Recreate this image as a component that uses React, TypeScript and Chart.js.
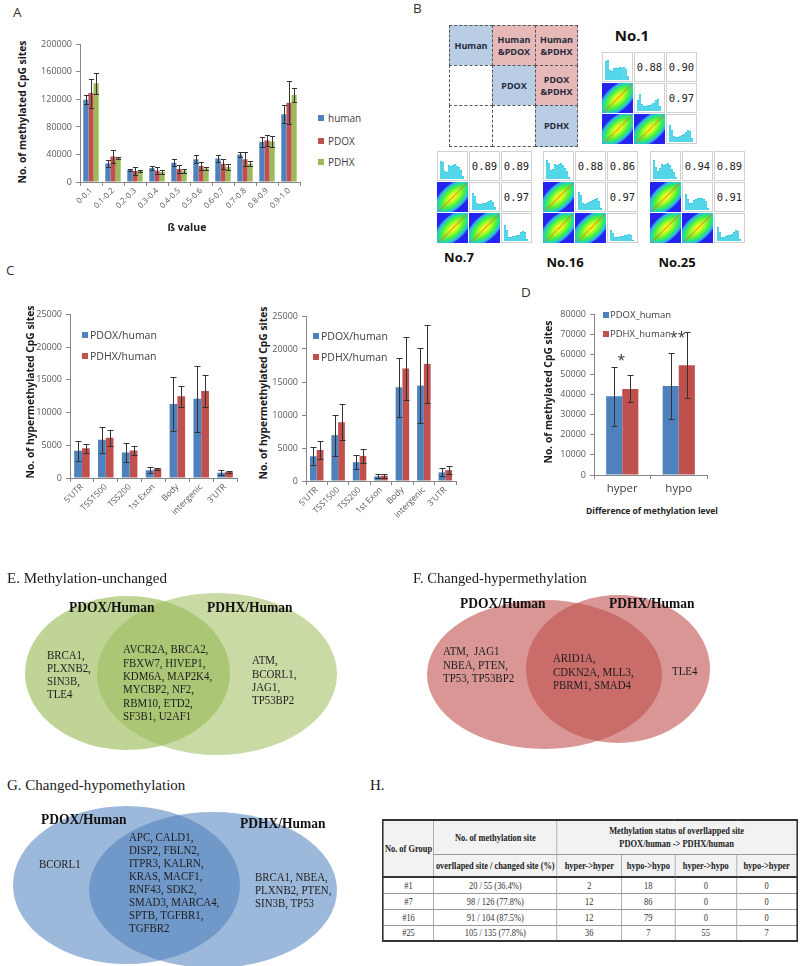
import React, { useEffect, useRef } from "react";
import { Chart, registerables } from "chart.js";

Chart.register(...registerables);

const SANS = '"Open Sans", "Noto Sans", sans-serif';
const SERIF = '"Liberation Serif", "Times New Roman", serif';
const MONO = '"DejaVu Sans Mono", monospace';
const BLUE = "#4F81BD";
const RED = "#C0504D";
const GREEN = "#9BBB59";
const AXIS = "#868686";
const TICK = "#595959";

// ---------------- Panel A data ----------------
const betaBins = ["0-0.1", "0.1-0.2", "0.2-0.3", "0.3-0.4", "0.4-0.5", "0.5-0.6", "0.6-0.7", "0.7-0.8", "0.8-0.9", "0.9-1.0"];
const humanSites = [119500, 27000, 17800, 20200, 28000, 33000, 34200, 40000, 58300, 98300];
const humanSitesErr = [6500, 5000, 1500, 2500, 5000, 6000, 5000, 4000, 7000, 13000];
const pdoxSites = [129200, 37100, 15900, 16400, 18800, 23100, 26500, 33200, 60200, 115200];
const pdoxSitesErr = [21000, 10000, 6000, 5000, 6000, 6000, 7500, 10000, 8000, 31000];
const pdhxSites = [143600, 35000, 16400, 14500, 16400, 19800, 21700, 26500, 58800, 126700];
const pdhxSitesErr = [15000, 2000, 1500, 3000, 3000, 2500, 4000, 3500, 8000, 10000];

// ---------------- Panel C data ----------------
const regions = ["5'UTR", "TSS1500", "TSS200", "1st Exon", "Body", "intergenic", "3'UTR"];
const hyperPdoxLeft = [4150, 5850, 3900, 1200, 11300, 12100, 800];
const hyperPdoxLeftErr = [1500, 2000, 1400, 500, 4100, 5000, 400];
const hyperPdhxLeft = [4550, 6150, 4200, 1400, 12500, 13300, 900];
const hyperPdhxLeftErr = [700, 1200, 700, 200, 1600, 2400, 150];
const hyperPdoxRight = [3750, 6950, 2850, 700, 14200, 14450, 1300];
const hyperPdoxRightErr = [1400, 3100, 1100, 300, 4450, 5650, 600];
const hyperPdhxRight = [4700, 8900, 3800, 800, 17050, 17750, 1650];
const hyperPdhxRightErr = [1300, 2700, 1100, 300, 4750, 5950, 600];

// ---------------- Panel D data ----------------
const diffLevels = ["hyper", "hypo"];
const pdoxDiff = [39200, 44300];
const pdoxDiffErr = [14700, 16300];
const pdhxDiff = [42900, 54700];
const pdhxDiffErr = [6700, 16300];
const starText = ["*", "**"];
const starLevel = [58500, 69500];

// ---------------- Panel B data ----------------
const legendCellText = [
  ["Human", "Human\n&PDOX", "Human\n&PDHX"],
  ["", "PDOX", "PDOX\n&PDHX"],
  ["", "", "PDHX"],
];
const sampleNames = ["No.1", "No.7", "No.16", "No.25"];
const corrNo1 = [0.88, 0.9, 0.97];
const corrNo7 = [0.89, 0.89, 0.97];
const corrNo16 = [0.88, 0.86, 0.97];
const corrNo25 = [0.94, 0.89, 0.91];
const histNo1 = [
  [0.95, 1.0, 0.5, 0.45, 0.6, 0.62, 0.6, 0.65, 0.62, 0.66, 0.58, 0.2],
  [0.55, 0.85, 0.35, 0.25, 0.25, 0.3, 0.3, 0.38, 0.42, 0.55, 0.62, 0.25],
  [0.85, 0.62, 0.3, 0.25, 0.25, 0.3, 0.35, 0.4, 0.5, 0.6, 0.55, 0.2],
];
const histNo7 = [
  [0.9, 0.85, 0.4, 0.35, 0.7, 0.65, 0.7, 0.75, 0.65, 0.6, 0.45, 0.15],
  [0.85, 0.7, 0.35, 0.3, 0.3, 0.35, 0.35, 0.4, 0.45, 0.5, 0.4, 0.15],
  [0.8, 0.55, 0.2, 0.2, 0.25, 0.25, 0.3, 0.3, 0.45, 0.5, 0.45, 0.1],
];
const histNo16 = [
  [0.95, 0.8, 0.45, 0.5, 0.75, 0.7, 0.75, 0.8, 0.7, 0.55, 0.4, 0.1],
  [0.9, 0.75, 0.35, 0.3, 0.35, 0.4, 0.45, 0.5, 0.55, 0.6, 0.45, 0.1],
  [0.55, 0.4, 0.2, 0.2, 0.22, 0.25, 0.25, 0.3, 0.3, 0.35, 0.3, 0.05],
];
const histNo25 = [
  [0.95, 0.6, 0.4, 0.55, 0.75, 0.7, 0.75, 0.8, 0.7, 0.5, 0.35, 0.1],
  [0.8, 0.55, 0.35, 0.35, 0.5, 0.55, 0.6, 0.6, 0.6, 0.55, 0.45, 0.1],
  [0.7, 0.45, 0.2, 0.2, 0.25, 0.3, 0.3, 0.35, 0.45, 0.55, 0.5, 0.1],
];

// ---------------- Venn texts ----------------
const vennSetNames = ["PDOX/Human", "PDHX/Human"];
const unchangedLeft = ["BRCA1,", "PLXNB2,", "SIN3B,", "TLE4"];
const unchangedBoth = ["AVCR2A, BRCA2,", "FBXW7, HIVEP1,", "KDM6A, MAP2K4,", "MYCBP2, NF2,", "RBM10, ETD2,", "SF3B1, U2AF1"];
const unchangedRight = ["ATM,", "BCORL1,", "JAG1,", "TP53BP2"];
const hyperLeft = ["ATM,  JAG1", "NBEA, PTEN,", "TP53, TP53BP2"];
const hyperBoth = ["ARID1A,", "CDKN2A, MLL3,", "PBRM1, SMAD4"];
const hyperRight = ["TLE4"];
const hypoLeft = ["BCORL1"];
const hypoBoth = ["APC, CALD1,", "DISP2, FBLN2,", "ITPR3, KALRN,", "KRAS, MACF1,", "RNF43, SDK2,", "SMAD3, MARCA4,", "SPTB, TGFBR1,", "TGFBR2"];
const hypoRight = ["BRCA1, NBEA,", "PLXNB2, PTEN,", "SIN3B, TP53"];

// ---------------- Table H data ----------------
const groupIds = ["#1", "#7", "#16", "#25"];
const overlapText = ["20 / 55 (36.4%)", "98 / 126 (77.8%)", "91 / 104 (87.5%)", "105 / 135 (77.8%)"];
const transitions = ["hyper->hyper", "hypo->hypo", "hyper->hypo", "hypo->hyper"];
const hyperToHyper = [2, 12, 12, 36];
const hypoToHypo = [18, 86, 79, 7];
const hyperToHypo = [0, 0, 0, 55];
const hypoToHyper = [0, 0, 0, 7];

// ---------------- plugins ----------------
const errorBarPlugin = {
  id: "errorBars",
  afterDatasetsDraw(chart: any, _args: any, opts: any) {
    const errs: number[][] = (opts && opts.errors) || [];
    const y = chart.scales.y;
    const ctx = chart.ctx;
    ctx.save();
    ctx.strokeStyle = "#333333";
    ctx.lineWidth = 1;
    chart.data.datasets.forEach((ds: any, di: number) => {
      const e = errs[di];
      if (!e) return;
      const meta = chart.getDatasetMeta(di);
      meta.data.forEach((bar: any, i: number) => {
        const v = ds.data[i];
        const err = e[i];
        const px = Math.round(bar.x) + 0.5;
        const top = Math.round(y.getPixelForValue(v + err)) + 0.5;
        const bot = Math.round(y.getPixelForValue(Math.max(0, v - err))) + 0.5;
        const cap = Math.min(bar.width / 2, 3);
        ctx.beginPath();
        ctx.moveTo(px, top);
        ctx.lineTo(px, bot);
        ctx.moveTo(px - cap, top);
        ctx.lineTo(px + cap, top);
        ctx.moveTo(px - cap, bot);
        ctx.lineTo(px + cap, bot);
        ctx.stroke();
      });
    });
    ctx.restore();
  },
};

const starPlugin = {
  id: "stars",
  afterDatasetsDraw(chart: any, _args: any, opts: any) {
    const marks = (opts && opts.marks) || [];
    if (!marks.length) return;
    const { x, y } = chart.scales;
    const ctx = chart.ctx;
    ctx.save();
    ctx.fillStyle = "#333";
    ctx.font = `14px ${SANS}`;
    ctx.textAlign = "center";
    ctx.textBaseline = "middle";
    marks.forEach((m: any) => {
      ctx.fillText(m.text, x.getPixelForValue(m.cat) - 1, y.getPixelForValue(m.value) + 3);
    });
    ctx.restore();
  },
};

const ellipsePlugin = {
  id: "ellipses",
  beforeDatasetsDraw(chart: any) {
    const { x, y } = chart.scales;
    const ctx = chart.ctx;
    ctx.save();
    chart.data.datasets.forEach((ds: any) => {
      const p = ds.data[0];
      const cx = x.getPixelForValue(p.x);
      const cy = y.getPixelForValue(p.y);
      const rx = Math.abs(x.getPixelForValue(p.x + ds.rx) - cx);
      const ry = Math.abs(y.getPixelForValue(p.y + ds.ry) - cy);
      ctx.fillStyle = ds.fill;
      ctx.beginPath();
      ctx.ellipse(cx, cy, rx, ry, 0, 0, Math.PI * 2);
      ctx.fill();
    });
    ctx.restore();
  },
};

type Series = { label: string; data: number[]; err: number[]; color: string };

function barConfig(o: any) {
  return {
    type: "bar",
    data: {
      labels: o.labels,
      datasets: o.series.map((s: Series) => ({
        label: s.label,
        data: s.data,
        backgroundColor: s.color,
        borderWidth: 0,
        barPercentage: 1,
        categoryPercentage: o.catPct,
      })),
    },
    options: {
      animation: false,
      responsive: false,
      events: [],
      layout: { padding: { top: o.padTop, right: o.padRight, left: 0, bottom: 0 } },
      plugins: {
        legend: { display: false },
        tooltip: { enabled: false },
        errorBars: { errors: o.series.map((s: Series) => s.err) },
        stars: { marks: o.stars || [] },
      },
      scales: {
        x: {
          grid: { display: true, drawOnChartArea: false, drawTicks: true, tickLength: 4, color: AXIS, offset: true },
          border: { display: true, color: AXIS, width: 1 },
          ticks: {
            autoSkip: false,
            minRotation: o.rot,
            maxRotation: o.rot,
            padding: o.xPad ?? 0,
            color: o.xColor ?? TICK,
            font: { size: o.xFont, family: SANS },
          },
          afterFit: (s: any) => {
            s.height = o.xAxisH;
          },
        },
        y: {
          min: 0,
          max: o.yMax,
          grid: { display: true, drawOnChartArea: false, drawTicks: true, tickLength: 4, color: AXIS },
          border: { display: true, color: AXIS, width: 1 },
          ticks: {
            stepSize: o.yStep,
            padding: 4,
            color: TICK,
            font: { size: o.yFont, family: SANS },
            callback: (v: any) => String(v),
          },
          afterFit: (s: any) => {
            s.width = o.yAxisW;
          },
        },
      },
    },
    plugins: [errorBarPlugin, starPlugin],
  };
}

function ChartCanvas({ left, top, width, height, build }: any) {
  const ref = useRef<HTMLCanvasElement | null>(null);
  useEffect(() => {
    const chart = new Chart(ref.current as HTMLCanvasElement, build());
    return () => chart.destroy();
  }, []);
  return (
    <canvas
      ref={ref}
      width={width}
      height={height}
      style={{ position: "absolute", left, top, width, height }}
    />
  );
}

function histConfig(vals: number[]) {
  return {
    type: "bar",
    data: {
      labels: vals.map((_, i) => String(i)),
      datasets: [
        {
          data: vals,
          backgroundColor: "#22e2f0",
          borderColor: "#0fb2d2",
          borderWidth: 0.6,
          borderSkipped: "bottom",
          barPercentage: 1,
          categoryPercentage: 0.95,
        },
      ],
    },
    options: {
      animation: false,
      responsive: false,
      events: [],
      layout: { padding: { top: 6, left: 2, right: 3, bottom: 1 } },
      plugins: { legend: { display: false }, tooltip: { enabled: false } },
      scales: { x: { display: false }, y: { display: false, min: 0, max: 1.05 } },
    },
  };
}

function vennConfig(box: any, ellipses: any[]) {
  return {
    type: "scatter",
    data: {
      datasets: ellipses.map((e) => ({
        data: [{ x: e.cx, y: e.cy }],
        rx: e.rx,
        ry: e.ry,
        fill: e.fill,
        pointRadius: 0,
      })),
    },
    options: {
      animation: false,
      responsive: false,
      events: [],
      layout: { autoPadding: false, padding: 0 },
      plugins: { legend: { display: false }, tooltip: { enabled: false } },
      scales: {
        x: { type: "linear", display: false, min: box.left, max: box.left + box.width },
        y: { type: "linear", display: false, min: box.top, max: box.top + box.height, reverse: true },
      },
    },
    plugins: [ellipsePlugin],
  };
}

function Label({ x, y, text, size = 12, bold = false, family = SANS, color = "#222", lh, sx = 1, align = "left" }: any) {
  const lineH = lh ?? Math.round(size * 1.25);
  return (
    <div
      style={{
        position: "absolute",
        left: x,
        top: y - lineH / 2,
        fontSize: size,
        fontWeight: bold ? 700 : 400,
        fontFamily: family,
        color,
        lineHeight: `${lineH}px`,
        whiteSpace: "pre",
        textAlign: align,
        transform: align === "center" ? `translateX(-50%) scaleX(${sx})` : `scaleX(${sx})`,
        transformOrigin: align === "center" ? "50% 0" : "0 0",
      }}
    >
      {text}
    </div>
  );
}

function VLabel({ cx, cy, text, size = 10.3 }: any) {
  return (
    <div
      style={{
        position: "absolute",
        left: cx,
        top: cy,
        transform: "translate(-50%,-50%) rotate(-90deg)",
        fontSize: size,
        fontWeight: 700,
        fontFamily: SANS,
        whiteSpace: "nowrap",
        color: "#1a1a1a",
        lineHeight: 1,
      }}
    >
      {text}
    </div>
  );
}

function Key({ x, y, color, text, size = 10, gap = 8 }: any) {
  return (
    <>
      <div style={{ position: "absolute", left: x, top: y - 3, width: 6, height: 6, background: color }} />
      <div
        style={{
          position: "absolute",
          left: x + gap,
          top: y - size * 0.7,
          fontSize: size,
          lineHeight: `${size * 1.4}px`,
          fontFamily: SANS,
          color: "#404040",
          whiteSpace: "nowrap",
        }}
      >
        {text}
      </div>
    </>
  );
}

function Density({ x, y }: any) {
  return (
    <div style={{ position: "absolute", left: x, top: y, width: 31, height: 30, background: "#2424ee", overflow: "hidden" }}>
      <div
        style={{
          position: "absolute",
          left: "50%",
          top: "50%",
          width: 50,
          height: 25,
          transform: "translate(-50%,-50%) rotate(-43deg)",
          borderRadius: "50%",
          background:
            "radial-gradient(closest-side, #ffe21a 0%, #eaff22 14%, #a6ff2a 32%, #4cf03a 55%, #22d6b0 74%, #3aa0f0 88%, rgba(36,36,238,0) 100%)",
        }}
      />
      <div
        style={{
          position: "absolute",
          left: "50%",
          top: "50%",
          width: 38,
          height: 1,
          background: "rgba(255,110,20,0.75)",
          transform: "translate(-50%,-50%) rotate(-45deg)",
        }}
      />
    </div>
  );
}

function Matrix({ x, y, hists, corr }: any) {
  const cells: any[] = [];
  let k = 0;
  for (let r = 0; r < 3; r++) {
    for (let c = 0; c < 3; c++) {
      const cx = x + c * 32;
      const cy = y + r * 31;
      const key = `${r}-${c}`;
      if (r === c) {
        cells.push(
          <div key={key} style={{ position: "absolute", left: cx, top: cy, width: 31, height: 30, boxSizing: "border-box", border: "1px solid #d0d0d0", background: "#fff" }} />
        );
        cells.push(<ChartCanvas key={key + "h"} left={cx + 1} top={cy + 1} width={29} height={28} build={() => histConfig(hists[r])} />);
      } else if (r < c) {
        const v = corr[k++];
        cells.push(
          <div
            key={key}
            style={{
              position: "absolute",
              left: cx,
              top: cy,
              width: 31,
              height: 30,
              boxSizing: "border-box",
              border: "1px solid #d0d0d0",
              background: "#fff",
              fontFamily: MONO,
              fontSize: 10.5,
              lineHeight: "28px",
              textAlign: "center",
              color: "#222",
            }}
          >
            {v.toFixed(2)}
          </div>
        );
      } else {
        cells.push(<Density key={key} x={cx} y={cy} />);
      }
    }
  }
  return <>{cells}</>;
}

function LegendGrid() {
  const widths = [43, 43, 42];
  const heights = [40, 40, 41];
  const out: any[] = [];
  let top = 25;
  for (let r = 0; r < 3; r++) {
    let left = 449;
    for (let c = 0; c < 3; c++) {
      const txt = legendCellText[r][c];
      const bg = r === c ? "#b9cde4" : r < c ? "#e6b8b7" : "#ffffff";
      out.push(
        <div
          key={`${r}${c}`}
          style={{
            position: "absolute",
            left,
            top,
            width: widths[c] + 1,
            height: heights[r] + 1,
            boxSizing: "border-box",
            border: "1px dashed #555",
            background: bg,
            display: "flex",
            alignItems: "center",
            justifyContent: "center",
            textAlign: "center",
            whiteSpace: "pre",
            fontFamily: SANS,
            fontWeight: 700,
            fontSize: 9,
            lineHeight: "12px",
            color: "#1f2a3a",
          }}
        >
          {txt}
        </div>
      );
      left += widths[c];
    }
    top += heights[r];
  }
  return <>{out}</>;
}

function MethTable() {
  const S = 1.25;
  const cols = [51, 123, 65, 53, 62, 60].map((w) => w * S);
  const base: any = {
    border: "1px solid #9a9a9a",
    padding: 0,
    textAlign: "center",
    verticalAlign: "middle",
    whiteSpace: "nowrap",
    overflow: "hidden",
  };
  const th = { ...base, background: "#f2f2f2", fontWeight: 700, color: "#222" };
  const thLow = { ...th, borderBottom: "2px solid #333" };
  const td = { ...base, fontWeight: 400, color: "#333" };
  const rows = groupIds.map((g, i) => [g, overlapText[i], hyperToHyper[i], hypoToHypo[i], hyperToHypo[i], hypoToHyper[i]]);
  return (
    <div style={{ position: "absolute", left: 382, top: 819, transform: `scaleX(${1 / S})`, transformOrigin: "0 0" }}>
      <table
        style={{
          width: 414 * S,
          height: 122,
          borderCollapse: "collapse",
          tableLayout: "fixed",
          fontFamily: SERIF,
          fontSize: 10.5,
          border: "2px solid #333",
        }}
      >
        <colgroup>
          {cols.map((w, i) => (
            <col key={i} style={{ width: w }} />
          ))}
        </colgroup>
        <thead>
          <tr style={{ height: 34 }}>
            <th rowSpan={2} style={thLow}>No. of Group</th>
            <th style={th}>No. of methylation site</th>
            <th colSpan={4} style={{ ...th, lineHeight: "13px" }}>
              Methylation status of overllapped site
              <br />
              PDOX/human -&gt; PDHX/human
            </th>
          </tr>
          <tr style={{ height: 23 }}>
            <th style={thLow}>overllaped site / changed site (%)</th>
            {transitions.map((t) => (
              <th key={t} style={thLow}>
                {t}
              </th>
            ))}
          </tr>
        </thead>
        <tbody>
          {rows.map((r, i) => (
            <tr key={i} style={{ height: 16 }}>
              {r.map((v, j) => (
                <td key={j} style={td}>
                  {v}
                </td>
              ))}
            </tr>
          ))}
        </tbody>
      </table>
    </div>
  );
}

function GeneBlock({ x, y, lines, lh = 13.3 }: any) {
  return <Label x={x} y={y} text={lines.join("\n")} size={12.5} family={SERIF} lh={lh} sx={0.87} color="#1e1e1e" />;
}

export default function App() {
  const aSeries: Series[] = [
    { label: "human", data: humanSites, err: humanSitesErr, color: BLUE },
    { label: "PDOX", data: pdoxSites, err: pdoxSitesErr, color: RED },
    { label: "PDHX", data: pdhxSites, err: pdhxSitesErr, color: GREEN },
  ];
  const cLeft: Series[] = [
    { label: "PDOX/human", data: hyperPdoxLeft, err: hyperPdoxLeftErr, color: BLUE },
    { label: "PDHX/human", data: hyperPdhxLeft, err: hyperPdhxLeftErr, color: RED },
  ];
  const cRight: Series[] = [
    { label: "PDOX/human", data: hyperPdoxRight, err: hyperPdoxRightErr, color: BLUE },
    { label: "PDHX/human", data: hyperPdhxRight, err: hyperPdhxRightErr, color: RED },
  ];
  const dSeries: Series[] = [
    { label: "PDOX_human", data: pdoxDiff, err: pdoxDiffErr, color: BLUE },
    { label: "PDHX_human", data: pdhxDiff, err: pdhxDiffErr, color: RED },
  ];
  const dStars = starText.map((t, i) => ({ cat: i, value: starLevel[i], text: t }));

  const boxE = { left: 0, top: 585, width: 345, height: 185 };
  const boxF = { left: 400, top: 585, width: 330, height: 180 };
  const boxG = { left: 0, top: 795, width: 345, height: 171 };
  const gA = "rgba(155,187,89,0.64)";
  const gB = "rgba(155,187,89,0.54)";
  const rA = "rgba(192,80,77,0.6)";
  const bA = "rgba(79,129,189,0.56)";

  return (
    <div
      style={{
        position: "absolute",
        left: 0,
        top: 0,
        width: 800,
        height: 966,
        overflow: "hidden",
        background: "#fff",
        fontFamily: SANS,
      }}
    >
      {/* ---------- Panel A ---------- */}
      <ChartCanvas
        left={30}
        top={35}
        width={280}
        height={190}
        build={() =>
          barConfig({
            labels: betaBins,
            series: aSeries,
            yMax: 200000,
            yStep: 40000,
            yAxisW: 50,
            xAxisH: 43,
            padTop: 8,
            padRight: 10,
            catPct: 0.7,
            yFont: 9,
            xFont: 8,
            rot: 45,
          })
        }
      />
      <Label x={13} y={12} text="A" size={13.5} color="#333" />
      <VLabel cx={22} cy={112} text="No. of methylated CpG sites" />
      <Key x={318} y={118} color={BLUE} text="human" gap={10} />
      <Key x={318} y={141} color={RED} text="PDOX" gap={10} />
      <Key x={318} y={162} color={GREEN} text="PDHX" gap={10} />
      <Label x={187} y={227} text="ß value" size={10.5} bold align="center" />

      {/* ---------- Panel B ---------- */}
      <Label x={413} y={8} text="B" size={13.5} color="#333" />
      <LegendGrid />
      <Matrix x={602} y={52} hists={histNo1} corr={corrNo1} />
      <Matrix x={437} y={151} hists={histNo7} corr={corrNo7} />
      <Matrix x={543} y={151} hists={histNo16} corr={corrNo16} />
      <Matrix x={650} y={151} hists={histNo25} corr={corrNo25} />
      <Label x={632} y={35} text={sampleNames[0]} size={15} bold align="center" color="#111" />
      <Label x={459} y={257} text={sampleNames[1]} size={13} bold align="center" color="#111" />
      <Label x={565} y={262} text={sampleNames[2]} size={13} bold align="center" color="#111" />
      <Label x={677} y={262} text={sampleNames[3]} size={13} bold align="center" color="#111" />

      {/* ---------- Panel C ---------- */}
      <ChartCanvas
        left={35}
        top={305}
        width={212}
        height={250}
        build={() =>
          barConfig({
            labels: regions,
            series: cLeft,
            yMax: 25000,
            yStep: 5000,
            yAxisW: 35,
            xAxisH: 77,
            padTop: 9,
            padRight: 10,
            catPct: 0.65,
            yFont: 9,
            xFont: 8.5,
            rot: 45,
          })
        }
      />
      <ChartCanvas
        left={270}
        top={306}
        width={195}
        height={250}
        build={() =>
          barConfig({
            labels: regions,
            series: cRight,
            yMax: 25000,
            yStep: 5000,
            yAxisW: 36,
            xAxisH: 75,
            padTop: 10,
            padRight: 9,
            catPct: 0.63,
            yFont: 9,
            xFont: 8.5,
            rot: 45,
          })
        }
      />
      <Label x={6} y={270} text="C" size={13.5} color="#333" />
      <VLabel cx={30} cy={392} text="No. of hypermethylated CpG sites" />
      <VLabel cx={263} cy={393} text="No. of hypermethylated CpG sites" />
      <Key x={82} y={335} color={BLUE} text="PDOX/human" size={10.5} />
      <Key x={82} y={356} color={RED} text="PDHX/human" size={10.5} />
      <Key x={313} y={336} color={BLUE} text="PDOX/human" size={10.5} />
      <Key x={313} y={357} color={RED} text="PDHX/human" size={10.5} />

      {/* ---------- Panel D ---------- */}
      <ChartCanvas
        left={550}
        top={305}
        width={167}
        height={195}
        build={() =>
          barConfig({
            labels: diffLevels,
            series: dSeries,
            yMax: 80000,
            yStep: 10000,
            yAxisW: 44,
            xAxisH: 25,
            padTop: 8,
            padRight: 10,
            catPct: 0.57,
            yFont: 9,
            xFont: 11.5,
            xColor: "#404040",
            xPad: 3,
            rot: 0,
            stars: dStars,
          })
        }
      />
      <Label x={521} y={292} text="D" size={13.5} color="#333" />
      <VLabel cx={548} cy={392} text="No. of methylated CpG sites" />
      <Key x={603} y={315} color={BLUE} text="PDOX_human" size={9.5} gap={7} />
      <Key x={603} y={334} color={RED} text="PDHX_human" size={9.5} gap={7} />
      <Label x={652} y={510} text="Difference of methylation level" size={8.5} bold align="center" />

      {/* ---------- Panel E ---------- */}
      <ChartCanvas
        left={boxE.left}
        top={boxE.top}
        width={boxE.width}
        height={boxE.height}
        build={() =>
          vennConfig(boxE, [
            { cx: 127.5, cy: 673, rx: 102.5, ry: 77, fill: gA },
            { cx: 217, cy: 674, rx: 120, ry: 81, fill: gB },
          ])
        }
      />
      <Label x={7} y={578} text="E. Methylation-unchanged" size={15} family={SERIF} color="#1a1a1a" />
      <Label x={69} y={607} text={vennSetNames[0]} size={15} bold family={SERIF} sx={0.9} color="#111" />
      <Label x={207} y={607} text={vennSetNames[1]} size={15} bold family={SERIF} sx={0.9} color="#111" />
      <GeneBlock x={47} y={655} lines={unchangedLeft} lh={13} />
      <GeneBlock x={123} y={650} lines={unchangedBoth} />
      <GeneBlock x={252} y={661} lines={unchangedRight} />

      {/* ---------- Panel F ---------- */}
      <ChartCanvas
        left={boxF.left}
        top={boxF.top}
        width={boxF.width}
        height={boxF.height}
        build={() =>
          vennConfig(boxF, [
            { cx: 544.5, cy: 674.5, rx: 117.5, ry: 74.5, fill: rA },
            { cx: 618, cy: 669, rx: 92, ry: 74, fill: rA },
          ])
        }
      />
      <Label x={413} y={578} text="F. Changed-hypermethylation" size={14.6} family={SERIF} color="#1a1a1a" />
      <Label x={460} y={603} text={vennSetNames[0]} size={15} bold family={SERIF} sx={0.9} color="#111" />
      <Label x={609} y={603} text={vennSetNames[1]} size={15} bold family={SERIF} sx={0.9} color="#111" />
      <GeneBlock x={443} y={652} lines={hyperLeft} />
      <GeneBlock x={553} y={659} lines={hyperBoth} />
      <GeneBlock x={672} y={672} lines={hyperRight} />

      {/* ---------- Panel G ---------- */}
      <ChartCanvas
        left={boxG.left}
        top={boxG.top}
        width={boxG.width}
        height={boxG.height}
        build={() =>
          vennConfig(boxG, [
            { cx: 126.5, cy: 885, rx: 113.5, ry: 79, fill: bA },
            { cx: 213, cy: 890, rx: 124, ry: 78, fill: bA },
          ])
        }
      />
      <Label x={7} y={785} text="G. Changed-hypomethylation" size={15} family={SERIF} color="#1a1a1a" />
      <Label x={41} y={819} text={vennSetNames[0]} size={15} bold family={SERIF} sx={0.9} color="#111" />
      <Label x={240} y={823} text={vennSetNames[1]} size={15} bold family={SERIF} sx={0.9} color="#111" />
      <GeneBlock x={39} y={865} lines={hypoLeft} />
      <GeneBlock x={129} y={837} lines={hypoBoth} lh={13} />
      <GeneBlock x={255} y={877} lines={hypoRight} lh={13} />

      {/* ---------- Panel H ---------- */}
      <Label x={370} y={785} text="H." size={15} family={SERIF} color="#1a1a1a" />
      <MethTable />
    </div>
  );
}
